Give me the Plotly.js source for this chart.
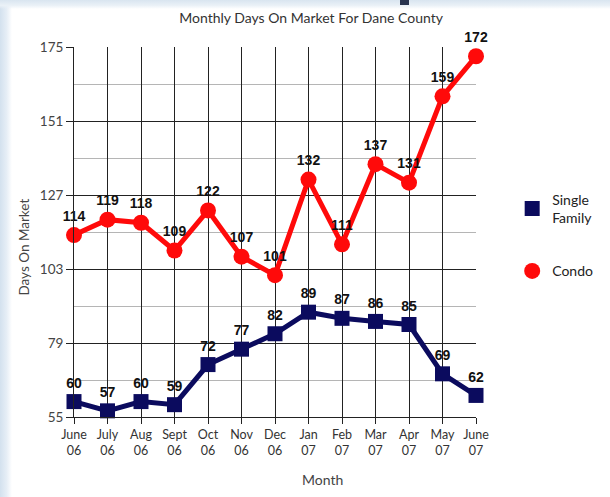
<!DOCTYPE html>
<html>
<head>
<meta charset="utf-8">
<script src="https://cdn.plot.ly/plotly-3.0.1.min.js"></script>
<style>
  html, body { margin: 0; padding: 0; background: #ffffff; }
  #wrap { position: relative; width: 610px; height: 497px; overflow: hidden; }
  #leftStrip { position: absolute; left: 0; top: 0; width: 12px; height: 497px;
    background: linear-gradient(to right, #d3e1ee 0%, #e6eef6 55%, rgba(255,255,255,0) 100%); }
  #topStrip { position: absolute; left: 0; top: 0; width: 610px; height: 9px;
    background: linear-gradient(to bottom, #d9e5f0 0%, #eaf1f7 60%, rgba(255,255,255,0) 100%); }
  #mark { position: absolute; left: 400px; top: 0; width: 9px; height: 5px; background: #2a3550; }
  #chart { position: absolute; left: 0; top: 0; width: 610px; height: 497px; }
</style>
</head>
<body>
<div id="wrap">
  <div id="leftStrip"></div>
  <div id="topStrip"></div>
  <div id="mark"></div>
  <div id="chart"></div>
</div>
<script>
// ---- data ----
const months = ["June<br>06", "July<br>06", "Aug<br>06", "Sept<br>06", "Oct<br>06", "Nov<br>06", "Dec<br>06",
                "Jan<br>07", "Feb<br>07", "Mar<br>07", "Apr<br>07", "May<br>07", "June<br>07"];
const singleFamily = [60, 57, 60, 59, 72, 77, 82, 89, 87, 86, 85, 69, 62];
const condo = [114, 119, 118, 109, 122, 107, 101, 132, 111, 137, 131, 159, 172];
const yTicks = [55, 79, 103, 127, 151, 175];

const navy = "#0b0b5e";
const red = "#ff0a0a";
const labelFont = { family: "Liberation Sans, Arial, sans-serif", size: 14, color: "#111", weight: 700 };

const traces = [
  {
    x: months, y: singleFamily, type: "scatter", mode: "lines+markers+text",
    text: singleFamily.map(String), textposition: "top center", textfont: labelFont,
    line: { color: navy, width: 5 },
    marker: { symbol: "square", size: 15, color: navy },
    cliponaxis: false, showlegend: false, hoverinfo: "x+y"
  },
  {
    x: months, y: condo, type: "scatter", mode: "lines+markers+text",
    text: condo.map(String), textposition: "top center", textfont: labelFont,
    line: { color: red, width: 5 },
    marker: { symbol: "circle", size: 16, color: red },
    cliponaxis: false, showlegend: false, hoverinfo: "x+y"
  },
  {
    x: [null], y: [null], type: "scatter", mode: "markers", name: "Single<br>Family",
    marker: { symbol: "square", size: 15, color: navy }, legendgroup: "a"
  },
  {
    x: [null], y: [null], type: "scatter", mode: "markers", name: "Condo",
    marker: { symbol: "circle", size: 16, color: red }, legendgroup: "b"
  }
];

const textFamily = "Lato, 'Open Sans', sans-serif";

const layout = {
  width: 610, height: 497,
  margin: { l: 74, r: 124, t: 47, b: 80 },
  paper_bgcolor: "rgba(0,0,0,0)",
  plot_bgcolor: "rgba(0,0,0,0)",
  font: { family: textFamily, color: "#333" },
  title: {
    text: "Monthly Days On Market For Dane County",
    font: { family: textFamily, size: 14, color: "#333" },
    xref: "container", x: 0.51, xanchor: "center",
    yref: "container", y: 0.964, yanchor: "middle"
  },
  xaxis: {
    type: "category", range: [0, 12],
    showgrid: true, gridcolor: "#222", gridwidth: 1,
    ticks: "outside", ticklen: 6, tickcolor: "#222",
    tickfont: { family: textFamily, size: 12.5, color: "#333" },
    showline: true, linecolor: "#222", zeroline: false,
    fixedrange: true
  },
  yaxis: {
    range: [55, 175], tickvals: yTicks,
    showgrid: true, gridcolor: "#222", gridwidth: 1,
    minor: { dtick: 12, tick0: 55, showgrid: true, gridcolor: "#b5b5b5", gridwidth: 1 },
    ticks: "outside", ticklen: 7, tickcolor: "#222",
    tickfont: { family: textFamily, size: 13.5, color: "#444" },
    showline: true, linecolor: "#222", zeroline: false,
    fixedrange: true
  },
  showlegend: true,
  legend: {
    x: 1.09, xanchor: "left", y: 0.63, yanchor: "top",
    font: { family: textFamily, size: 14, color: "#222" },
    traceorder: "grouped", tracegroupgap: 32,
    itemwidth: 30, bgcolor: "rgba(0,0,0,0)"
  },
  annotations: [
    {
      text: "Days On Market", xref: "paper", yref: "paper",
      x: -0.125, y: 0.46, xanchor: "center", yanchor: "middle",
      textangle: -90, showarrow: false,
      font: { family: textFamily, size: 13.5, color: "#444" }
    },
    {
      text: "Month", xref: "paper", yref: "paper",
      x: 0.617, y: -0.17, xanchor: "center", yanchor: "middle",
      showarrow: false,
      font: { family: textFamily, size: 14, color: "#444" }
    }
  ]
};

Plotly.newPlot("chart", traces, layout, { displayModeBar: false, staticPlot: true });
</script>
</body>
</html>
